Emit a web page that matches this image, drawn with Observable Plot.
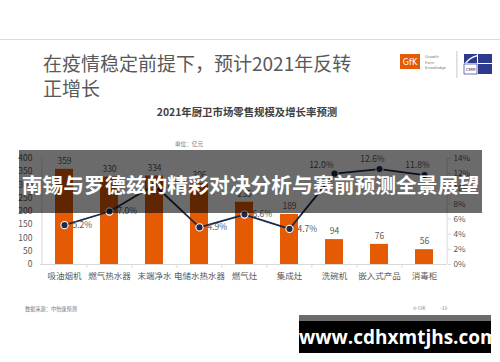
<!DOCTYPE html>
<html>
<head>
<meta charset="utf-8">
<script src="https://cdn.jsdelivr.net/npm/d3@7"></script>
<script src="https://cdn.jsdelivr.net/npm/@observablehq/plot@0.6"></script>
<style>
  html, body { margin: 0; padding: 0; background: #fff; }
  #page { position: relative; width: 500px; height: 362px; overflow: hidden; background: #fff;
          font-family: "Noto Sans CJK SC", "Noto Sans", sans-serif; }
  #page > * { position: absolute; }
  #chart { left: 0; top: 0; }
  .topline { left: 0; top: 39px; width: 500px; height: 1px; background: #dcdcdc; }
  .title { left: 43px; top: 50px; font-size: 19px; line-height: 25px; color: #595959; white-space: nowrap; }
  .ctitle { left: 100px; width: 294px; top: 104px; text-align: center; font-size: 10.4px; font-weight: bold; color: #404040; }
  .unit { left: 175px; top: 140px; font-size: 5.6px; color: #777; }
  .src { left: 25px; top: 305px; font-size: 5.2px; color: #777; }
  .gfk { left: 413px; top: 305px; font-size: 4.6px; color: #888; }
  .pg { left: 440px; top: 305px; font-size: 4.6px; color: #888; }
  .band { left: 19px; top: 150px; width: 463px; height: 63px; background: rgba(0,0,0,0.58);
          color: #fff; font-weight: bold; font-size: 20.8px; line-height: 63px; text-align: center;
          padding-top: 3px; box-sizing: border-box; white-space: nowrap; letter-spacing: 0px; }
  .wmstrip { left: 299px; top: 315px; width: 192px; height: 6px; background: #6b6b6b; }
  .wm { left: 299px; top: 321px; width: 192px; height: 32px; background: #000; color: #fff;
        font-family: "Open Sans", "DejaVu Sans", sans-serif; font-weight: bold; font-size: 19px;
        line-height: 32px; text-align: center; }
  .logo { left: 395px; top: 48px; }
</style>
</head>
<body>
<div id="page">
  <div class="topline"></div>
  <div class="title">在疫情稳定前提下，预计2021年反转<br>正增长</div>
  <svg class="logo" width="105" height="34" viewBox="0 0 105 34">
    <rect x="5" y="6" width="20" height="15" fill="#e55b04"/>
    <text x="15" y="16.5" fill="#fff" font-size="8" text-anchor="middle" font-family="DejaVu Sans">GfK</text>
    <text x="30" y="10" fill="#777" font-size="3.8" font-family="DejaVu Sans">Growth</text>
    <text x="30" y="15.5" fill="#777" font-size="3.8" font-family="DejaVu Sans">from</text>
    <text x="30" y="21" fill="#777" font-size="3.8" font-family="DejaVu Sans">Knowledge</text>
    <rect x="61.5" y="3" width="0.8" height="27" fill="#bbb"/>
    <rect x="69" y="6" width="13" height="9" fill="#2e3a8c"/>
    <path d="M70 15 Q74 9 82 7 L82 8.5 Q75 10 72 15 Z" fill="#fff"/>
    <rect x="83" y="6" width="14" height="9" fill="#2e3a8c"/>
    <rect x="69" y="16" width="13" height="10" fill="#fff" stroke="#2e3a8c" stroke-width="0.7"/>
    <text x="75.5" y="23" fill="#2e3a8c" font-size="4" text-anchor="middle" font-family="DejaVu Sans">CMM</text>
    <rect x="83" y="16" width="14" height="10" fill="#2e3a8c"/>
  </svg>
  <div class="ctitle">2021年厨卫市场零售规模及增长率预测</div>
  <div class="unit">单位：亿元</div>
  <div id="chart"></div>
  <div class="src">数据来源：中怡康预测</div>
  <div class="gfk">© GfK</div>
  <div class="pg">-33-</div>
  <div class="band">南锡与罗德兹的精彩对决分析与赛前预测全景展望</div>
  <div class="wmstrip"></div>
  <div class="wm">www.cdhxmtjhs.com</div>
</div>
<script>
// ---- data ----
const categories = ["吸油烟机", "燃气热水器", "末端净水", "电储水热水器", "燃气灶", "集成灶", "洗碗机", "嵌入式产品", "消毒柜"];
const sales = [359, 330, 334, 306, 235, 189, 94, 76, 56];          // 亿元
const growth = [5.2, 7.0, 10.5, 4.9, 6.6, 4.7, 12.0, 12.6, 11.8];  // %
const leftTicks = [0, 50, 100, 150, 200, 250, 300, 350, 400];
const rightTicks = [0, 2, 4, 6, 8, 10, 12, 14];

// ---- build ----
const leftMax = 400, rightMax = 14;
const toLeft = p => p * leftMax / rightMax;
const rows = categories.map((c, i) => ({cat: c, v: sales[i], g: growth[i], i}));

const W = 500, H = 362, mL = 40, mR = 53, mT = 158, mB = 98;
const bw = (W - mL - mR) / categories.length;
const grid = "#d9d9d9";
const navy = "#1c2b4a";
const orange = "#e55b04";
const txt = "#595959";

const rightIdx = new Set([0, 1, 2, 3, 4, 5]);
const upLeftIdx = new Set([6]);
const upIdx = new Set([7, 8]);

const svg = Plot.plot({
  width: W, height: H,
  marginLeft: mL, marginRight: mR, marginTop: mT, marginBottom: mB,
  style: {fontFamily: '"Noto Sans CJK SC", sans-serif', fontSize: "8.5px", color: txt, background: "transparent"},
  x: {domain: categories, paddingInner: 0.6, paddingOuter: 0.3},
  y: {domain: [0, leftMax]},
  marks: [
    Plot.ruleY([0], {stroke: grid}),
    Plot.ruleX([categories[0]], {dx: -bw / 2, y1: 0, y2: leftMax, stroke: grid}),
    Plot.ruleX([categories[categories.length - 1]], {dx: bw / 2, y1: 0, y2: leftMax, stroke: grid}),
    Plot.ruleX(categories.slice(1), {dx: -bw / 2, y1: 0, y2: -14, stroke: grid}),
    Plot.axisY(leftTicks, {anchor: "left", tickSize: 0, tickPadding: 8, fill: txt, label: null, fontSize: 8.5}),
    Plot.axisY(rightTicks.map(toLeft), {anchor: "right", tickSize: 3, tickPadding: 3, stroke: grid, fill: txt, label: null,
      fontSize: 8.2, tickFormat: d => Math.round(d * rightMax / leftMax) + "%"}),
    Plot.axisX({tickSize: 0, tickPadding: 8, fill: txt, label: null, fontSize: 8.5}),
    Plot.barY(rows, {x: "cat", y: "v", fill: orange}),
    Plot.text(rows, {x: "cat", y: "v", text: d => String(d.v), dy: -8, fill: txt, fontSize: 8.5}),
    Plot.line(rows, {x: "cat", y: d => toLeft(d.g), stroke: navy, strokeWidth: 1.8}),
    Plot.dot(rows, {x: "cat", y: d => toLeft(d.g), r: 3.6, fill: navy, stroke: "#fff", strokeWidth: 1.1}),
    Plot.text(rows.filter(d => rightIdx.has(d.i)), {x: "cat", y: d => toLeft(d.g), text: d => d.g.toFixed(1) + "%",
      textAnchor: "start", dx: 8, fill: txt, fontSize: 8.5, ariaLabel: "pct-label"}),
    Plot.text(rows.filter(d => upLeftIdx.has(d.i)), {x: "cat", y: d => toLeft(d.g), text: d => d.g.toFixed(1) + "%",
      textAnchor: "end", dx: -1, dy: -8, fill: txt, fontSize: 8.5, ariaLabel: "pct-label"}),
    Plot.text(rows.filter(d => upIdx.has(d.i)), {x: "cat", y: d => toLeft(d.g), text: d => d.g.toFixed(1) + "%",
      textAnchor: "middle", dx: -7, dy: -10, fill: txt, fontSize: 8.5, ariaLabel: "pct-label"})
  ]
});
document.getElementById("chart").append(svg);

// white boxes with border behind the percentage labels
svg.querySelectorAll('g[aria-label="pct-label"] text').forEach(t => {
  const b = t.getBBox();
  const r = document.createElementNS("http://www.w3.org/2000/svg", "rect");
  r.setAttribute("x", b.x - 2);
  r.setAttribute("y", b.y + 0.5);
  r.setAttribute("width", b.width + 4);
  r.setAttribute("height", b.height - 0.5);
  r.setAttribute("fill", "#fff");
  r.setAttribute("stroke", "#8497b0");
  r.setAttribute("stroke-width", "0.9");
  const tr = t.getAttribute("transform");
  if (tr) r.setAttribute("transform", tr);
  t.parentNode.insertBefore(r, t);
});
</script>
</body>
</html>
